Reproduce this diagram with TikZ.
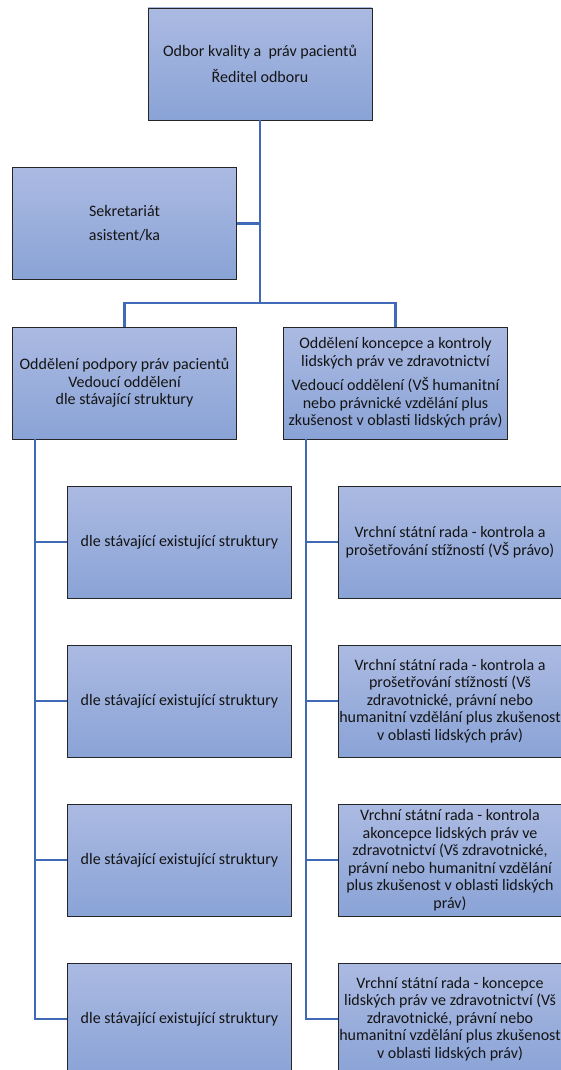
\documentclass[tikz,border=0pt]{standalone}
\usepackage{fontspec}
\setmainfont{Carlito}
\usetikzlibrary{positioning}
\definecolor{boxtop}{RGB}{171,186,226}
\definecolor{boxbot}{RGB}{138,163,214}
\definecolor{linkblue}{RGB}{64,106,184}
\definecolor{txtdark}{RGB}{20,20,20}
\newcommand{\wideline}[1]{\makebox[0pt]{#1}}
\tikzset{
  orgbox/.style={rectangle, draw=black!85, line width=0.9pt, top color=boxtop, bottom color=boxbot, minimum width=224pt, minimum height=112pt, inner sep=3pt, align=center, text=txtdark, font=\fontsize{16}{17.5}\selectfont},
  link/.style={draw=linkblue, line width=2.4pt}
}

\begin{document}
\begin{tikzpicture}[x=1pt, y=-1pt]
  \useasboundingbox (0,0) rectangle (561,1070);

  % Head and secretariat
  \node[orgbox] (head) at (260,64) {Odbor kvality a\ \ práv pacientů\\[8pt]Ředitel odboru};
  \node[orgbox] (sekr) at (124.5,223.5) {Sekretariát\\[7pt]asistent/ka};

  % Departments
  \node[orgbox] (podp) at (124.5,383) {Oddělení podpory práv pacientů\\Vedoucí oddělení\\dle stávající struktury};
  \node[orgbox] (konc) at (395.5,383) {Oddělení koncepce a kontroly\\lidských práv ve zdravotnictví\\[7pt]Vedoucí oddělení (VŠ humanitní\\nebo právnické vzdělání plus\\zkušenost v oblasti lidských práv)};

  % Left column
  \foreach \yy [count=\i] in {542,701,860,1019}
    \node[orgbox] (L\i) at (179.5,\yy) {dle stávající existující struktury};

  % Right column
  \node[orgbox] (R1) at (450,542) {Vrchní státní rada - kontrola a\\prošetřování stížností (VŠ právo)};
  \node[orgbox] (R2) at (450,701) {Vrchní státní rada - kontrola a\\prošetřování stížností (Vš\\zdravotnické, právní nebo\\\wideline{humanitní vzdělání plus zkušenost}\\v oblasti lidských práv)};
  \node[orgbox] (R3) at (450,860) {Vrchní státní rada - kontrola\\akoncepce lidských práv ve\\zdravotnictví (Vš zdravotnické,\\právní nebo humanitní vzdělání\\plus zkušenost v oblasti lidských\\práv)};
  \node[orgbox] (R4) at (450,1019) {Vrchní státní rada - koncepce\\\wideline{lidských práv ve zdravotnictví (Vš}\\zdravotnické, právní nebo\\\wideline{humanitní vzdělání plus zkušenost}\\v oblasti lidských práv)};

  % Connectors
  \coordinate (bar) at (260,303);
  \coordinate (lrail) at (35,439);
  \coordinate (rrail) at (306,439);
  \draw[link] (head.south) -- (bar);
  \draw[link] (sekr.east) -- (sekr.east -| head.south);
  \draw[link] (podp.north) |- (bar) -| (konc.north);
  \foreach \i in {1,...,4} {
    \draw[link] (lrail) |- (L\i.west);
    \draw[link] (rrail) |- (R\i.west);
  }
\end{tikzpicture}
\end{document}
